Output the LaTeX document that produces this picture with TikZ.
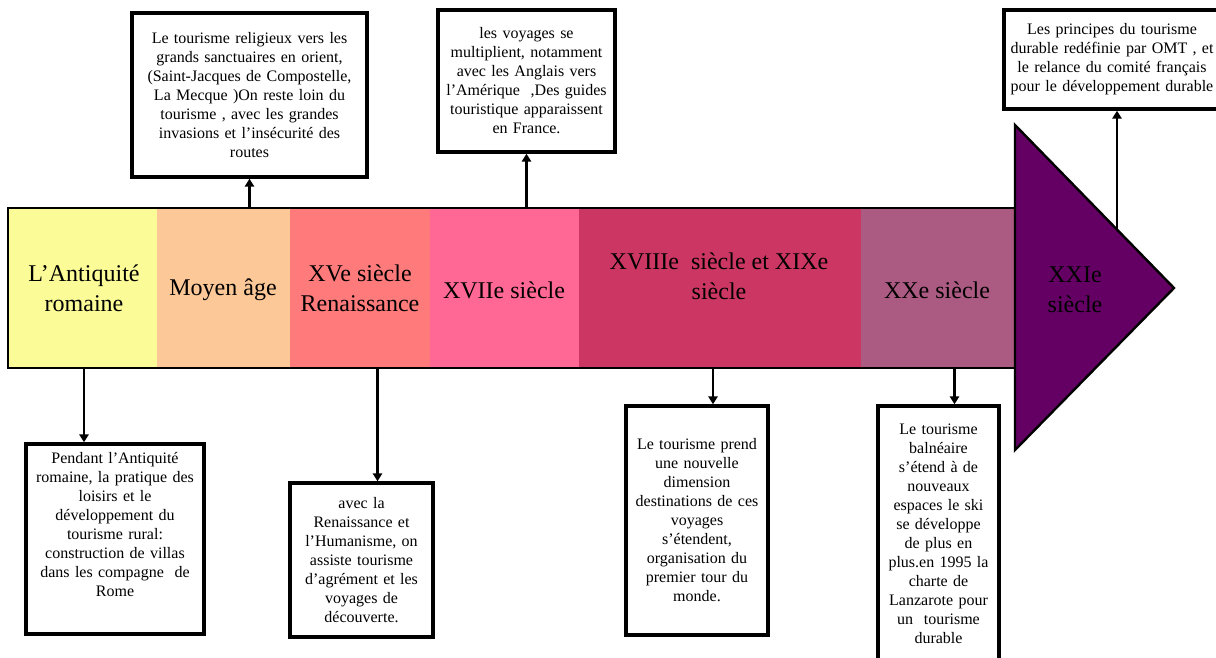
\documentclass[tikz,border=0pt]{standalone}
\usepackage{fontspec}
\setmainfont{Liberation Serif}
\usepackage{tikz}
\usetikzlibrary{arrows.meta, positioning, calc}
\definecolor{antiqcol}{HTML}{FBFB98}
\definecolor{moyencol}{HTML}{FDC897}
\definecolor{renaiscol}{HTML}{FF7B7B}
\definecolor{xviicol}{HTML}{FF6895}
\definecolor{xviiicol}{HTML}{CC3663}
\definecolor{xxcol}{HTML}{AB5A82}
\definecolor{xxicol}{HTML}{640064}
\tikzset{
  bandtxt/.style={align=center, inner sep=0pt, font=\fontsize{18}{22.5}\selectfont},
  descbox/.style={draw=black, line width=2.6pt, fill=white, align=center, inner sep=2pt,
                  font=\fontsize{12}{14.25}\selectfont},
  conn/.style={line width=2.2pt, -{Triangle[width=7pt,length=6pt]}}
}

\begin{document}
\begin{tikzpicture}[x=0.75pt, y=-0.75pt]
  \useasboundingbox (0,0) rectangle (1216,657);
  % frise
  \fill[antiqcol] (8,208) rectangle (157,368);
  \fill[moyencol] (157,208) rectangle (290,368);
  \fill[renaiscol] (290,208) rectangle (430,368);
  \fill[xviicol] (430,208) rectangle (579,368);
  \fill[xviiicol] (579,208) rectangle (861,368);
  \fill[xxcol] (861,208) rectangle (1015,368);
  \draw[line width=1.8pt] (1015,208) -- (8,208) -- (8,368) -- (1015,368);
  \fill[xxicol] (1015,125) -- (1174,288) -- (1015,450) -- cycle;
  \draw[line width=1.8pt] (1015,125) -- (1174,288) -- (1015,450) -- cycle;
  \coordinate (bandtop) at (0,208);
  \coordinate (bandbot) at (0,368);
  \coordinate (headedge) at (1117,229);

  \node[bandtxt] (lantiq) at (84,288) {L’Antiquité\\romaine};
  \node[bandtxt] (lmoyen) at (223,290) {Moyen âge};
  \node[bandtxt] (lrenais) at (360,288) {XVe siècle\\Renaissance};
  \node[bandtxt] (lxvii) at (504,290) {XVIIe siècle};
  \node[bandtxt] (lxviii) at (719,276) {XVIIIe\ \ siècle et XIXe\\siècle};
  \node[bandtxt] (lxx) at (937,290) {XXe siècle};
  \node[bandtxt] (lxxi) at (1075,290) {XXIe\\siècle};

  % boites du haut
  \node[descbox, text width=170pt, minimum width=176.25pt, minimum height=123pt] (box1) at (249.5,95)
    {Le tourisme religieux vers les\\grands sanctuaires en orient,\\(Saint-Jacques de Compostelle,\\La Mecque )On reste loin du\\tourisme , avec les grandes\\invasions et l’insécurité des\\routes};
  \node[descbox, text width=127pt, minimum width=132.75pt, minimum height=106.5pt] (box2) at (526.5,81)
    {les voyages se\\multiplient, notamment\\avec les Anglais vers\\l’Amérique\ \ ,Des guides\\touristique apparaissent\\en France.};
  \node[descbox, text width=156pt, minimum width=162pt, minimum height=74.25pt] (box3) at (1112,59.5)
    {Les principes du tourisme\\durable redéfinie par OMT , et\\le relance du comité français\\pour le développement durable};

  % boites du bas
  \node[descbox, text width=127pt, minimum width=133.5pt, minimum height=142.5pt, text depth=121pt] (boxA) at (115,539)
    {Pendant l’Antiquité\\romaine, la pratique des\\loisirs et le\\développement du\\tourisme rural:\\construction de villas\\dans les compagne\ \ de\\Rome};
  \node[descbox, text width=101pt, minimum width=107.25pt, minimum height=115.5pt] (boxB) at (361.5,560)
    {avec la\\Renaissance et\\l’Humanisme, on\\assiste tourisme\\d’agrément et les\\voyages de\\découverte.};
  \node[descbox, text width=100pt, minimum width=106.5pt, minimum height=171.75pt] (boxC) at (697,520.5)
    {Le tourisme prend\\une nouvelle\\dimension\\destinations de ces\\voyages\\s’étendent,\\organisation du\\premier tour du\\monde.};
  \node[descbox, text width=84pt, minimum width=90.75pt, minimum height=192pt] (boxD) at (938.5,534)
    {Le tourisme\\balnéaire\\s’étend à de\\nouveaux\\espaces le ski\\se développe\\de plus en\\plus.en 1995 la\\charte de\\Lanzarote pour\\un\ \ tourisme\\durable};

  % fleches
  \draw[conn] (bandtop -| box1.south) -- (box1.south);
  \draw[conn] (bandtop -| box2.south) -- (box2.south);
  \draw[conn] (headedge) -- (headedge |- box3.south);
  \draw[conn] (lantiq |- bandbot) -- (lantiq |- boxA.north);
  \draw[conn] ([xshift=12pt]boxB.north |- bandbot) -- ([xshift=12pt]boxB.north);
  \draw[conn] ([xshift=12pt]boxC.north |- bandbot) -- ([xshift=12pt]boxC.north);
  \draw[conn] ([xshift=12pt]boxD.north |- bandbot) -- ([xshift=12pt]boxD.north);
\end{tikzpicture}
\end{document}
